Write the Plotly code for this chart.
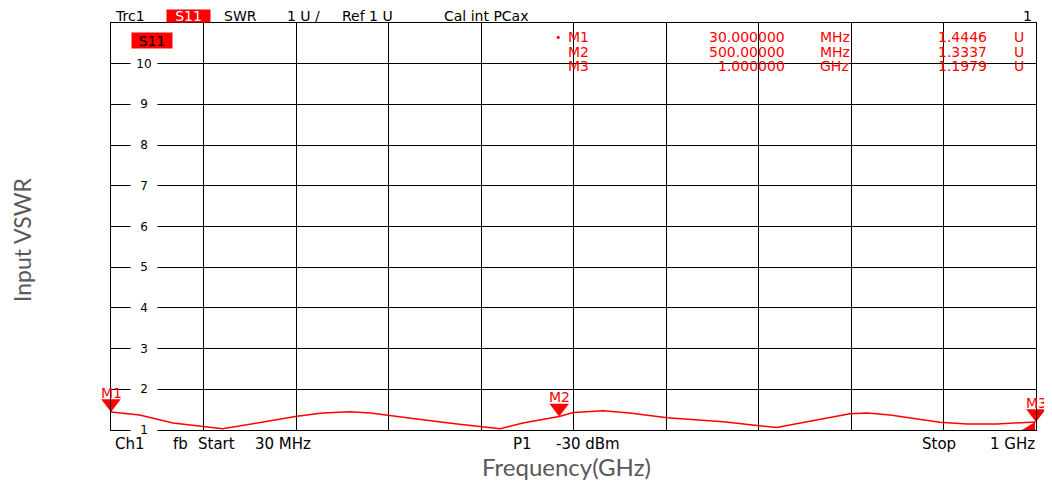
import plotly.graph_objects as go

# ---- data ----
freq_ghz = [0.030, 0.060, 0.095, 0.147, 0.188, 0.225, 0.252, 0.281, 0.302, 0.323,
            0.357, 0.393, 0.438, 0.462, 0.500, 0.515, 0.546, 0.574, 0.613, 0.672,
            0.728, 0.760, 0.805, 0.823, 0.847, 0.899, 0.928, 0.959, 1.000]
vswr = [1.4446, 1.37, 1.17, 1.03, 1.19, 1.34, 1.42, 1.45, 1.42, 1.35,
        1.25, 1.15, 1.03, 1.17, 1.3337, 1.43, 1.47, 1.42, 1.30, 1.20,
        1.06, 1.20, 1.40, 1.42, 1.37, 1.19, 1.15, 1.15, 1.1979]

marker_names = ["M1", "M2", "M3"]
marker_freq = [0.030, 0.500, 1.000]
marker_vswr = [1.4446, 1.3337, 1.1979]
marker_stim = ["30.000000", "500.00000", "1.000000"]
marker_units = ["MHz", "MHz", "GHz"]

y_tick_vals = [1, 2, 3, 4, 5, 6, 7, 8, 9, 10]
x_start, x_stop = 0.030, 1.000
y_min, y_max = 1, 11

# ---- layout geometry (page pixels; the page body adds an 8px offset) ----
OFF = 8
WIDTH, HEIGHT = 1052 - OFF, 484 - OFF
L, R, T, B = 111, 1036, 23, 430
PW, PH = R - L, B - T
VNA = "DejaVu Sans"
RED = "#ff0000"


def ax(px):
    return (px - L) / PW


def ay(py):
    return (B - py) / PH


fig = go.Figure()
fig.add_trace(go.Scatter(x=freq_ghz, y=vswr, mode="lines",
                         line=dict(color=RED, width=1.5), hoverinfo="skip"))

# marker triangles (tip on the trace)
size = 17
px_per_unit = PH / (y_max - y_min)
fig.add_trace(go.Scatter(
    x=marker_freq, y=[v + (size / 2) / px_per_unit for v in marker_vswr],
    mode="markers", marker=dict(symbol="triangle-down", size=size, color=RED, line=dict(width=0)),
    cliponaxis=False, hoverinfo="skip"))

annotations = []


def ann(text, px, py, xanchor="left", size=15, color="black", family=VNA, **kw):
    d = dict(text=text, xref="paper", yref="paper", x=ax(px), y=ay(py),
             xanchor=xanchor, yanchor="middle", showarrow=False,
             font=dict(family=family, size=size, color=color))
    d.update(kw)
    annotations.append(d)


# header
HY = 16
HS = 14
ann("Trc1", 113, HY, size=HS)
ann("S11", 188.5, HY, xanchor="center", size=HS, color="white", bgcolor=RED, width=43, height=12, borderpad=0)
ann("SWR", 222, HY, size=HS)
ann("1 U /", 285, HY, size=HS)
ann("Ref 1 U", 340, HY, size=HS)
ann("Cal int PCax", 442, HY, size=HS)
ann("1", 1034, HY, xanchor="right", size=HS)

# in-plot trace label
ann("S11", 152, 40.5, xanchor="center", size=14, bgcolor=RED, width=40, height=15, borderpad=0)

# marker table
rows_py = [37.5, 52, 66.5]
for i, name in enumerate(marker_names):
    py = rows_py[i]
    if i == 0:
        ann("•", 558, py, xanchor="center", size=11, color=RED)
    ann(name, 566, py, size=14, color=RED)
    ann(marker_stim[i], 787, py, xanchor="right", size=14, color=RED)
    ann(marker_units[i], 818, py, size=14, color=RED)
    ann(f"{marker_vswr[i]:.4f}", 989, py, xanchor="right", size=14, color=RED)
    ann("U", 1012, py, size=14, color=RED)

# y tick labels inside the grid
for v in y_tick_vals:
    annotations.append(dict(text=str(v), xref="paper", yref="y", x=ax(144), y=v,
                            xanchor="center", yanchor="middle", showarrow=False,
                            width=26, bgcolor="white", borderpad=0,
                            font=dict(family=VNA, size=12, color="black")))

# marker labels
for name, f, v in zip(marker_names, marker_freq, marker_vswr):
    annotations.append(dict(text=name, xref="x", yref="y", x=f, y=v, yshift=19,
                            xanchor="center", yanchor="middle", showarrow=False,
                            font=dict(family=VNA, size=14, color=RED)))

# footer
ann("Ch1", 113, 444)
ann("fb", 171, 444)
ann("Start", 196, 444)
ann("30 MHz", 253, 444)
ann("P1", 511, 444)
ann("-30 dBm", 554, 444)
ann("Stop", 920, 444)
ann("1 GHz", 1037, 444, xanchor="right")

# axis titles
ann("Frequency(GHz)", 566, 466, xanchor="center", size=24, color="#595959", family="Lato")
annotations.append(dict(text="Input VSWR", xref="paper", yref="paper", x=ax(22), y=ay(240),
                        xanchor="center", yanchor="middle", textangle=-90, showarrow=False,
                        font=dict(family="Lato", size=23, color="#595959")))

shapes = [dict(type="path", xref="paper", yref="paper", xsizemode="pixel", ysizemode="pixel",
               xanchor=1, yanchor=0, path="M-14,0 L-1,0 L-1,8 Z",
               fillcolor=RED, line=dict(width=0))]

fig.update_layout(
    width=WIDTH, height=HEIGHT,
    margin=dict(l=L - OFF, r=WIDTH - (R - OFF), t=T - OFF, b=HEIGHT - (B - OFF)),
    paper_bgcolor="white", plot_bgcolor="white",
    showlegend=False,
    annotations=annotations, shapes=shapes,
    xaxis=dict(range=[x_start, x_stop], tick0=x_start, dtick=(x_stop - x_start) / 10,
               showgrid=True, gridcolor="black", gridwidth=1, showticklabels=False,
               ticks="", zeroline=False, showline=True, linecolor="black", linewidth=1, mirror=True),
    yaxis=dict(range=[y_min, y_max], dtick=1, showgrid=True, gridcolor="black", gridwidth=1,
               showticklabels=False, ticks="", zeroline=False, showline=True,
               linecolor="black", linewidth=1, mirror=True),
)

fig.write_html("out.html")
